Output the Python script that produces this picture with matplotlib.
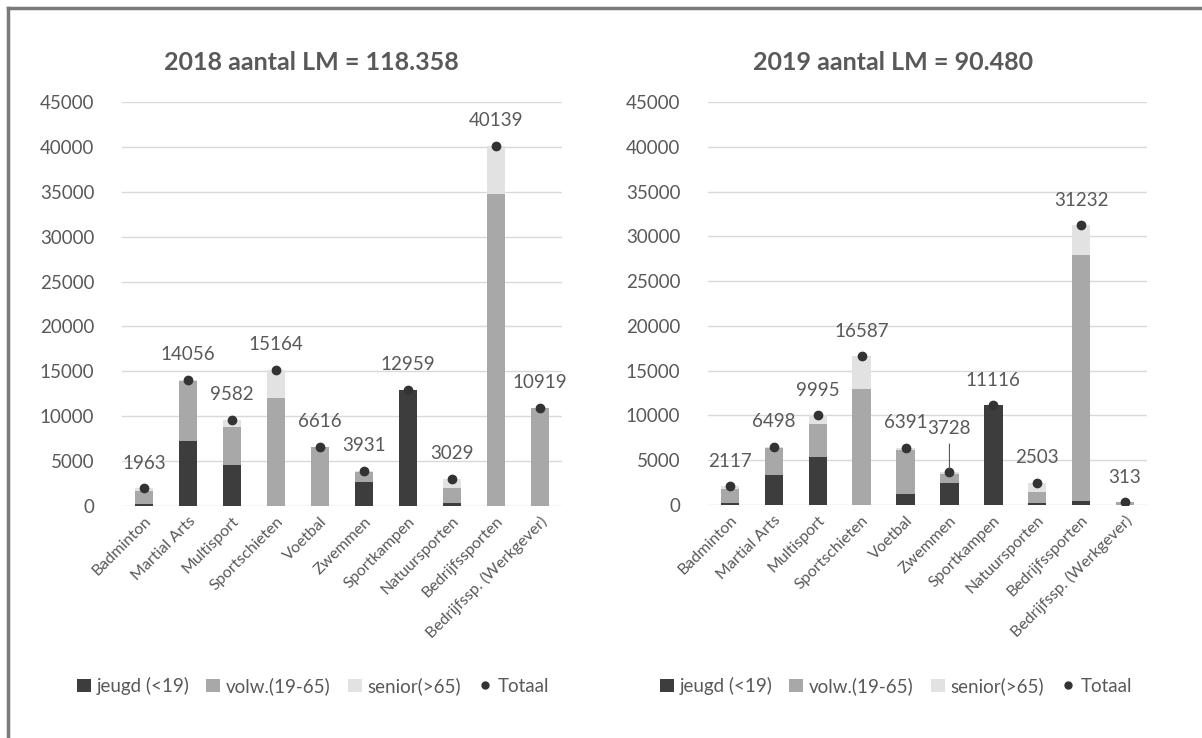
import matplotlib
matplotlib.use("Agg")
import matplotlib.pyplot as plt
from matplotlib.lines import Line2D
from matplotlib.patches import Patch
import numpy as np

categories = ["Badminton", "Martial Arts", "Multisport", "Sportschieten", "Voetbal",
              "Zwemmen", "Sportkampen", "Natuursporten", "Bedrijfssporten",
              "Bedrijfssp. (Werkgever)"]

jeugd_2018 = [250, 7200, 4550, 0, 0, 2620, 12959, 380, 0, 0]
volw_2018 = [1450, 6700, 4300, 12000, 6550, 1200, 0, 1600, 34800, 10919]
senior_2018 = [263, 156, 732, 3164, 66, 111, 0, 1049, 5339, 0]
totaal_2018 = [1963, 14056, 9582, 15164, 6616, 3931, 12959, 3029, 40139, 10919]

jeugd_2019 = [200, 3310, 5390, 0, 1230, 2420, 11116, 190, 480, 0]
volw_2019 = [1620, 3020, 3650, 12910, 4910, 1040, 0, 1290, 27420, 313]
senior_2019 = [297, 168, 955, 3677, 251, 268, 0, 1023, 3332, 0]
totaal_2019 = [2117, 6498, 9995, 16587, 6391, 3728, 11116, 2503, 31232, 313]

titles = ["2018 aantal LM = 118.358", "2019 aantal LM = 90.480"]
series_names = ["jeugd (<19)", "volw.(19-65)", "senior(>65)", "Totaal"]
yticks = [0, 5000, 10000, 15000, 20000, 25000, 30000, 35000, 40000, 45000]

C_J = "#3d3d3d"
C_V = "#a8a8a8"
C_S = "#e2e2e2"
C_T = "#333333"
TXT = "#595959"
FONT = ["Lato", "DejaVu Sans"]
plt.rcParams["font.family"] = FONT

W, H = 1202, 738
fig = plt.figure(figsize=(W / 100, H / 100), dpi=100)
fig.patch.set_facecolor("white")

axes_px = [(122, 562, 102, 506), (708, 1147, 102, 505)]
title_x = [311, 893]
legend_x = [313, 896]
datasets = [(jeugd_2018, volw_2018, senior_2018, totaal_2018),
            (jeugd_2019, volw_2019, senior_2019, totaal_2019)]

for i, (ax_px, data) in enumerate(zip(axes_px, datasets)):
    x0, x1, ytop, ybot = ax_px
    ax = fig.add_axes([x0 / W, 1 - ybot / H, (x1 - x0) / W, (ybot - ytop) / H])
    j, v, s, t = [np.array(a, dtype=float) for a in data]
    x = np.arange(len(categories))
    bw = 0.42
    ax.bar(x, j, bw, color=C_J, zorder=2)
    ax.bar(x, v, bw, bottom=j, color=C_V, zorder=2)
    ax.bar(x, s, bw, bottom=j + v, color=C_S, zorder=2)
    ax.plot(x, t, "o", color=C_T, markersize=6, zorder=3, linestyle="none")
    for k, (xx, tt) in enumerate(zip(x, t)):
        if i == 1 and categories[k] == "Zwemmen":
            ax.annotate(f"{int(tt)}", (xx, tt), xytext=(0, 31), textcoords="offset points",
                        ha="center", va="center", fontsize=13.5, color=TXT,
                        arrowprops=dict(arrowstyle="-", color=TXT, lw=0.8,
                                        shrinkA=3, shrinkB=2), annotation_clip=False)
        else:
            ax.annotate(f"{int(tt)}", (xx, tt), xytext=(0, 18), textcoords="offset points",
                        ha="center", va="center", fontsize=13.5, color=TXT,
                        annotation_clip=False)
    ax.set_xlim(-0.5, len(categories) - 0.5)
    ax.set_ylim(0, 45000)
    ax.set_yticks(yticks)
    ax.set_yticklabels([str(y) for y in yticks])
    ax.yaxis.grid(True, color="#d9d9d9", lw=1.0, zorder=0)
    ax.set_axisbelow(True)
    for sp in ax.spines.values():
        sp.set_visible(False)
    ax.tick_params(axis="y", length=0, pad=20, labelsize=13.5, labelcolor=TXT)
    ax.tick_params(axis="x", length=0, pad=6, labelsize=11.5, labelcolor=TXT)
    ax.set_xticks(x)
    ax.set_xticklabels(categories, rotation=45, ha="right", rotation_mode="anchor")
    fig.text(title_x[i] / W, 1 - 62 / H, titles[i], ha="center", va="center",
             fontsize=18, fontweight="bold", color=TXT)
    handles = [Patch(facecolor=C_J, edgecolor="none"),
               Patch(facecolor=C_V, edgecolor="none"),
               Patch(facecolor=C_S, edgecolor="none"),
               Line2D([], [], marker="o", color=C_T, linestyle="none", markersize=5)]
    fig.legend(handles, series_names, loc="center", bbox_to_anchor=(legend_x[i] / W, 1 - 686 / H),
               ncol=4, frameon=False, fontsize=13.5, labelcolor=TXT, handlelength=0.75,
               handleheight=0.75, handletextpad=0.3, columnspacing=0.9)

# outer frame (top and left edges visible)
fig.add_artist(Line2D([8 / W, 1], [1 - 8 / H, 1 - 8 / H], color="#7a7a7a", lw=2.5,
                      transform=fig.transFigure))
fig.add_artist(Line2D([8 / W, 8 / W], [0, 1 - 8 / H], color="#7a7a7a", lw=2.5,
                      transform=fig.transFigure))

fig.savefig("out.png", dpi=100, facecolor="white")
